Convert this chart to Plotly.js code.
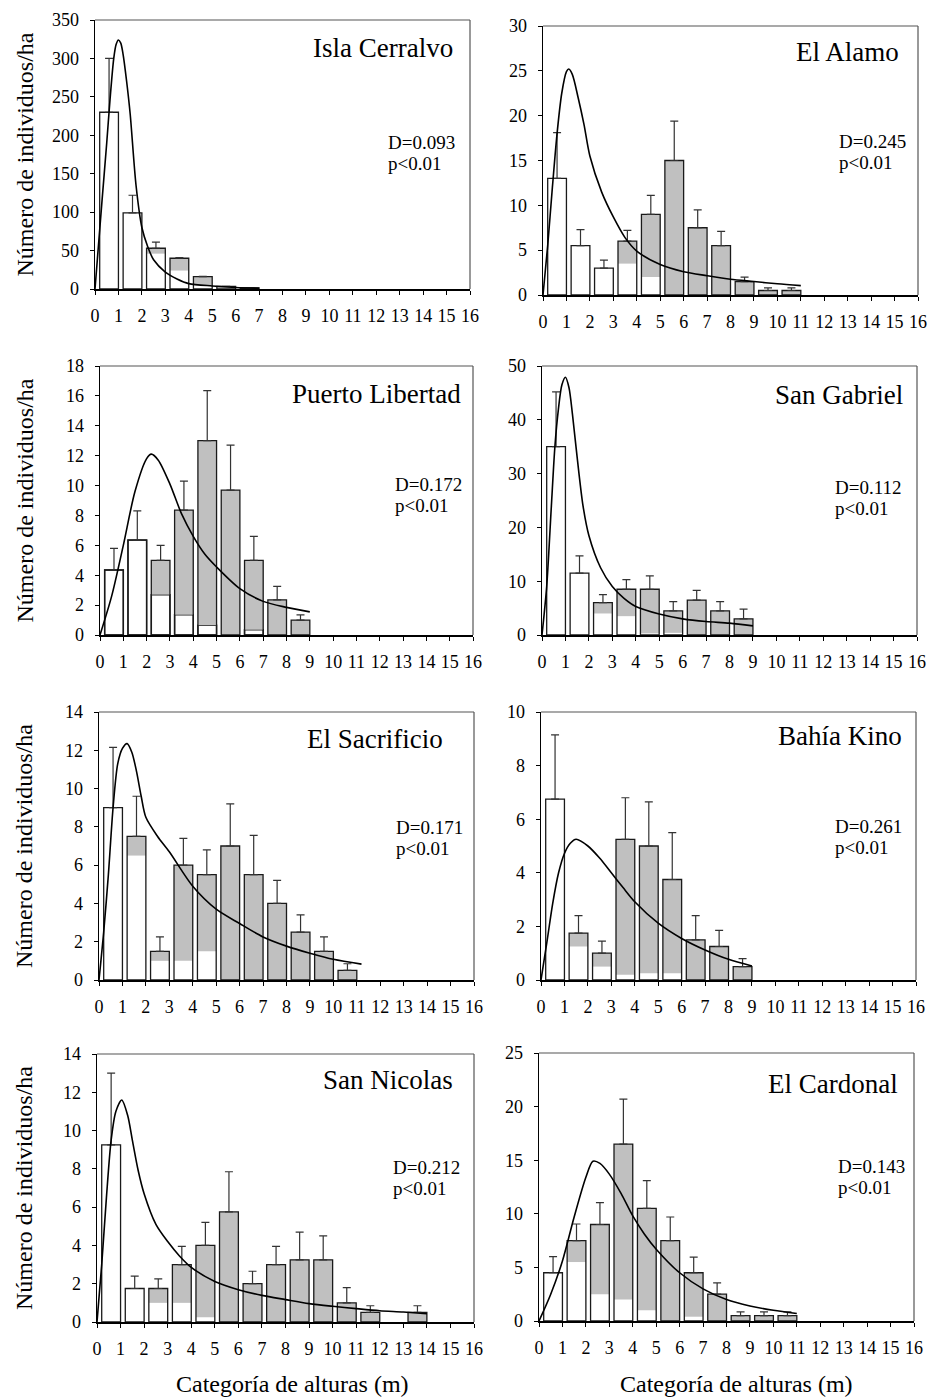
<!DOCTYPE html>
<html>
<head>
<meta charset="utf-8">
<script src="https://cdn.plot.ly/plotly-3.0.1.min.js"></script>
<style>html,body{margin:0;padding:0;background:#fff;}#chart{width:929px;height:1399px;}</style>
</head>
<body>
<div id="chart"></div>
<script>
// ---------- DATA ----------
const siteNames = ["Isla Cerralvo","El Alamo","Puerto Libertad","San Gabriel","El Sacrificio","Bahía Kino","San Nicolas","El Cardonal"];
const statD = ["D=0.093","D=0.245","D=0.172","D=0.112","D=0.171","D=0.261","D=0.212","D=0.143"];
const statP = ["p<0.01","p<0.01","p<0.01","p<0.01","p<0.01","p<0.01","p<0.01","p<0.01"];
const xTickLabels = ["0","1","2","3","4","5","6","7","8","9","10","11","12","13","14","15","16"];
const yAxisTitle = "Número de individuos/ha";
const xAxisTitle = "Categoría de alturas (m)";

// height class lower bound (m)
const cerralvoClass = [0,1,2,3,4,5,6];
const cerralvoTotal = [230,99,53,40,16,3.5,1.5];
const cerralvoWhite = [230,99,46,24,5,1,0.5];
const cerralvoErr   = [300,122,61,41,16.5,3.5,1.5];
const cerralvoCurveX = [0,0.3,0.5,0.64,0.8,0.9,1.0,1.1,1.2,1.35,1.5,1.75,2.0,2.25,2.5,3,3.5,4,5,6,7];
const cerralvoCurveY = [0,115,190,246,300,318,324,320,305,270,228,135,80,55,38,22,13,7,4,2,1];

const alamoClass = [0,1,2,3,4,5,6,7,8,9,10];
const alamoTotal = [13,5.5,3,6,9,15,7.5,5.5,1.5,0.5,0.5];
const alamoWhite = [13,5.5,3,3.5,2,0,0,0,0,0,0];
const alamoErr   = [18.1,7.3,3.9,7.2,11.1,19.4,9.5,7.1,2.0,0.8,0.8];
const alamoCurveX = [0,0.2,0.4,0.6,0.8,1.0,1.1,1.25,1.5,1.75,2.0,2.5,3,3.5,4,5,6,7,8,9,10,11];
const alamoCurveY = [0,5.5,12,18,22.5,24.9,25.2,24.6,22,19,15.5,11.5,8.7,6.4,4.9,3.4,2.6,2.15,1.75,1.5,1.25,1.05];

const libertadClass = [0,1,2,3,4,5,6,7,8];
const libertadTotal = [4.35,6.35,5.0,8.35,13.0,9.7,5.0,2.35,1.0];
const libertadWhite = [4.35,6.35,2.7,1.35,0.65,0,0.35,0,0];
const libertadErr   = [5.8,8.3,6.0,10.3,16.35,12.7,6.6,3.25,1.35];
const libertadCurveX = [0,0.5,1,1.5,2,2.2,2.5,3,3.5,4,4.5,5,6,7,8,9];
const libertadCurveY = [0,2.6,6.0,9.6,11.8,12.1,11.7,10.1,8.1,6.6,5.4,4.55,3.1,2.25,1.85,1.55];

const gabrielClass = [0,1,2,3,4,5,6,7,8];
const gabrielTotal = [35,11.5,6,8.5,8.5,4.5,6.5,4.5,3];
const gabrielWhite = [35,11.5,4,3.5,0.3,0.4,0,0,0];
const gabrielErr   = [45.2,14.7,7.5,10.3,11.0,6.2,8.3,6.2,4.8];
const gabrielCurveX = [0,0.2,0.4,0.55,0.7,0.85,1.0,1.15,1.3,1.5,1.75,2.0,2.5,3,3.5,4,5,6,7,8,9];
const gabrielCurveY = [0,9,24,35,42,46.5,47.9,46,41,33,24,18.5,12.5,9,6.8,5.3,3.9,3.0,2.5,2.2,1.7];

const sacrificioClass = [0,1,2,3,4,5,6,7,8,9,10];
const sacrificioTotal = [9,7.5,1.5,6,5.5,7,5.5,4,2.5,1.5,0.5];
const sacrificioWhite = [9,6.5,1.0,1.0,1.5,0,0,0,0,0,0];
const sacrificioErr   = [12.15,9.6,2.25,7.4,6.8,9.2,7.55,5.2,3.4,2.25,0.85];
const sacrificioCurveX = [0,0.2,0.4,0.6,0.8,1.0,1.2,1.4,1.6,1.8,2.0,2.5,3,4,5,6,7,8,9,10,11.2];
const sacrificioCurveY = [0,2.5,5.5,9,11.3,12.1,12.35,11.9,10.9,9.6,8.5,7.5,6.7,4.9,3.7,2.95,2.25,1.77,1.4,1.08,0.83];

const kinoClass = [0,1,2,3,4,5,6,7,8];
const kinoTotal = [6.75,1.75,1.0,5.25,5.0,3.75,1.5,1.25,0.5];
const kinoWhite = [6.75,1.25,0.5,0.2,0.25,0.25,0,0,0];
const kinoErr   = [9.15,2.4,1.45,6.8,6.65,5.5,2.4,1.85,0.8];
const kinoCurveX = [0,0.25,0.5,0.75,1,1.25,1.5,2,2.5,3,3.5,4,5,6,7,8,9];
const kinoCurveY = [0,1.4,2.86,4.0,4.72,5.1,5.25,5.0,4.55,4.0,3.45,2.92,2.12,1.55,1.12,0.77,0.52];

const nicolasClass = [0,1,2,3,4,5,6,7,8,9,10,11,13];
const nicolasTotal = [9.25,1.75,1.75,3.0,4.0,5.75,2.0,3.0,3.25,3.25,1.0,0.5,0.5];
const nicolasWhite = [9.25,1.75,1.0,1.0,0.25,0,0,0,0,0,0,0,0];
const nicolasErr   = [13.0,2.4,2.25,3.95,5.2,7.85,2.65,3.95,4.7,4.5,1.8,0.85,0.85];
const nicolasCurveX = [0,0.2,0.4,0.6,0.8,1.05,1.3,1.5,1.75,2,2.5,3,3.5,4,5,6,7,8,9,10,11,12,13,14];
const nicolasCurveY = [0,3,6.5,9.5,11,11.6,10.8,9.5,7.9,6.7,5.1,4.2,3.45,2.85,2.12,1.69,1.39,1.17,0.96,0.82,0.7,0.59,0.52,0.43];

const cardonalClass = [0,1,2,3,4,5,6,7,8,9,10];
const cardonalTotal = [4.5,7.5,9,16.5,10.5,7.5,4.5,2.5,0.5,0.5,0.5];
const cardonalWhite = [4.5,5.5,2.5,2.0,1.0,0,0.4,0,0,0,0];
const cardonalErr   = [6.0,9.05,11.05,20.7,13.1,9.7,5.95,3.55,0.85,0.85,0.85];
const cardonalCurveX = [0,0.5,1,1.5,2,2.3,2.6,3,3.5,4,4.5,5,6,7,8,9,10,11];
const cardonalCurveY = [0,2.5,5.6,9.7,13.4,14.9,14.7,13.7,11.9,9.8,8.1,6.7,4.5,3.0,2.0,1.4,1.0,0.7];

const yMax  = [350,30,18,50,14,10,14,25];
const yStep = [50,5,2,10,2,2,2,5];

// ---------- BUILD ----------
const panels = [
  [cerralvoClass,cerralvoTotal,cerralvoWhite,cerralvoErr,cerralvoCurveX,cerralvoCurveY],
  [alamoClass,alamoTotal,alamoWhite,alamoErr,alamoCurveX,alamoCurveY],
  [libertadClass,libertadTotal,libertadWhite,libertadErr,libertadCurveX,libertadCurveY],
  [gabrielClass,gabrielTotal,gabrielWhite,gabrielErr,gabrielCurveX,gabrielCurveY],
  [sacrificioClass,sacrificioTotal,sacrificioWhite,sacrificioErr,sacrificioCurveX,sacrificioCurveY],
  [kinoClass,kinoTotal,kinoWhite,kinoErr,kinoCurveX,kinoCurveY],
  [nicolasClass,nicolasTotal,nicolasWhite,nicolasErr,nicolasCurveX,nicolasCurveY],
  [cardonalClass,cardonalTotal,cardonalWhite,cardonalErr,cardonalCurveX,cardonalCurveY]
];

const W = 929, H = 1399;
// plot boxes in pixels: [left, top, right, bottom]
const boxes = [[95,20,470,289],[543,26,918,295],[100,366,473,635],[542,366,917,635],
               [99,712,474,980],[541,712,916,980],[97,1054,474,1322],[539,1053,914,1321]];
const titlePos = [[455,57],[901,61],[463,403],[905,404],[445,748],[904,745],[455,1089],[900,1093]];
const statPos  = [[386,149],[837,148],[393,491],[833,494],[394,834],[833,833],[391,1174],[836,1173]];
const whiteEdge = [false,false,true,false,false,false,false,false];

const FONT = "Liberation Serif, Times New Roman, serif";
const px2x = p => p / W;
const px2y = p => 1 - p / H;

const traces = [];
const layout = {
  width: W, height: H,
  margin: {l:0, r:0, t:0, b:0},
  paper_bgcolor: "#ffffff", plot_bgcolor: "rgba(0,0,0,0)",
  showlegend: false, barmode: "overlay",
  font: {family: FONT, color: "#000", size: 18},
  annotations: [], shapes: []
};

panels.forEach((p, i) => {
  const [cls, total, white, err, cx, cy] = p;
  const n = i + 1;
  const xa = n === 1 ? "x" : "x" + n;
  const ya = n === 1 ? "y" : "y" + n;
  const xCenter = cls.map(c => c + 0.6);
  const gray = total.map((t, k) => t - white[k]);

  traces.push({type:"bar", x:xCenter, y:white, base:0, width:0.8, xaxis:xa, yaxis:ya,
    marker:{color:"#ffffff", line:{color: whiteEdge[i] ? "#222" : "rgba(0,0,0,0)", width: whiteEdge[i] ? 1.5 : 0}},
    hoverinfo:"skip"});
  traces.push({type:"bar", x:xCenter, y:gray, base:white, width:0.8, xaxis:xa, yaxis:ya,
    marker:{color:"#c0c0c0", line:{width:0}}, hoverinfo:"skip"});
  traces.push({type:"bar", x:xCenter, y:total, base:0, width:0.8, xaxis:xa, yaxis:ya,
    marker:{color:"rgba(0,0,0,0)", line:{color:"#1a1a1a", width:1.3}},
    error_y:{type:"data", symmetric:false, array:err.map((e,k)=>Math.max(0,e-total[k])),
      arrayminus: total.map(()=>0), color:"#333", thickness:1.2, width:4},
    hoverinfo:"skip"});
  traces.push({type:"scatter", mode:"lines", x:cx, y:cy, xaxis:xa, yaxis:ya,
    line:{color:"#000", width:1.6, shape:"spline", smoothing:0.8}, hoverinfo:"skip"});

  const [l, t, r, b] = boxes[i];
  const xKey = n === 1 ? "xaxis" : "xaxis" + n;
  const yKey = n === 1 ? "yaxis" : "yaxis" + n;
  layout[xKey] = {domain:[px2x(l), px2x(r)], anchor: ya, range:[0,16], fixedrange:true,
    tickmode:"array", tickvals: xTickLabels.map(Number), ticktext: xTickLabels,
    ticks:"outside", ticklen:4, tickwidth:1, tickcolor:"#000",
    showline:true, linecolor:"#000", linewidth:1.6, showgrid:false, zeroline:false,
    tickfont:{family:FONT, size:18, color:"#000"}, ticklabelstandoff:6};
  const yt = [];
  for (let v = 0; v <= yMax[i] + 1e-9; v += yStep[i]) yt.push(v);
  layout[yKey] = {domain:[px2y(b), px2y(t)], anchor: xa, range:[0, yMax[i]], fixedrange:true,
    tickmode:"array", tickvals: yt, ticktext: yt.map(String),
    ticks:"outside", ticklen:4, tickwidth:1, tickcolor:"#000",
    showline:true, linecolor:"#000", linewidth:1.4, showgrid:false, zeroline:false,
    tickfont:{family:FONT, size:18, color:"#000"}, ticklabelstandoff:7};

  // frame top and right
  layout.shapes.push({type:"line", xref: xa + " domain", yref: ya + " domain", x0:0, x1:1, y0:1, y1:1,
    line:{color:"#555", width:1.2}});
  layout.shapes.push({type:"line", xref: xa + " domain", yref: ya + " domain", x0:1, x1:1, y0:0, y1:1,
    line:{color:"#555", width:1.2}});

  // site name
  layout.annotations.push({xref:"paper", yref:"paper", x:px2x(titlePos[i][0]), y:px2y(titlePos[i][1] - 9.2),
    xanchor:"right", yanchor:"middle", text: siteNames[i], showarrow:false,
    font:{family:FONT, size:27, color:"#000"}});
  // statistics
  layout.annotations.push({xref:"paper", yref:"paper", x:px2x(statPos[i][0]), y:px2y(statPos[i][1] - 6.4),
    xanchor:"left", yanchor:"middle", text: statD[i], showarrow:false,
    font:{family:FONT, size:19, color:"#000"}});
  layout.annotations.push({xref:"paper", yref:"paper", x:px2x(statPos[i][0]), y:px2y(statPos[i][1] + 21 - 6.4),
    xanchor:"left", yanchor:"middle", text: statP[i], showarrow:false,
    font:{family:FONT, size:19, color:"#000"}});

  // y title for left column
  if (i % 2 === 0) {
    layout.annotations.push({xref:"paper", yref:"paper", x:px2x(24), y:px2y((t + b) / 2),
      xanchor:"center", yanchor:"middle", textangle:-90, text: yAxisTitle, showarrow:false,
      font:{family:FONT, size:24, color:"#000"}});
  }
});

// x titles bottom row
layout.annotations.push({xref:"paper", yref:"paper", x:px2x(292), y:px2y(1384),
  xanchor:"center", yanchor:"middle", text:xAxisTitle, showarrow:false, font:{family:FONT, size:24, color:"#000"}});
layout.annotations.push({xref:"paper", yref:"paper", x:px2x(736), y:px2y(1384),
  xanchor:"center", yanchor:"middle", text:xAxisTitle, showarrow:false, font:{family:FONT, size:24, color:"#000"}});

Plotly.newPlot("chart", traces, layout, {displayModeBar:false, staticPlot:true});
</script>
</body>
</html>
